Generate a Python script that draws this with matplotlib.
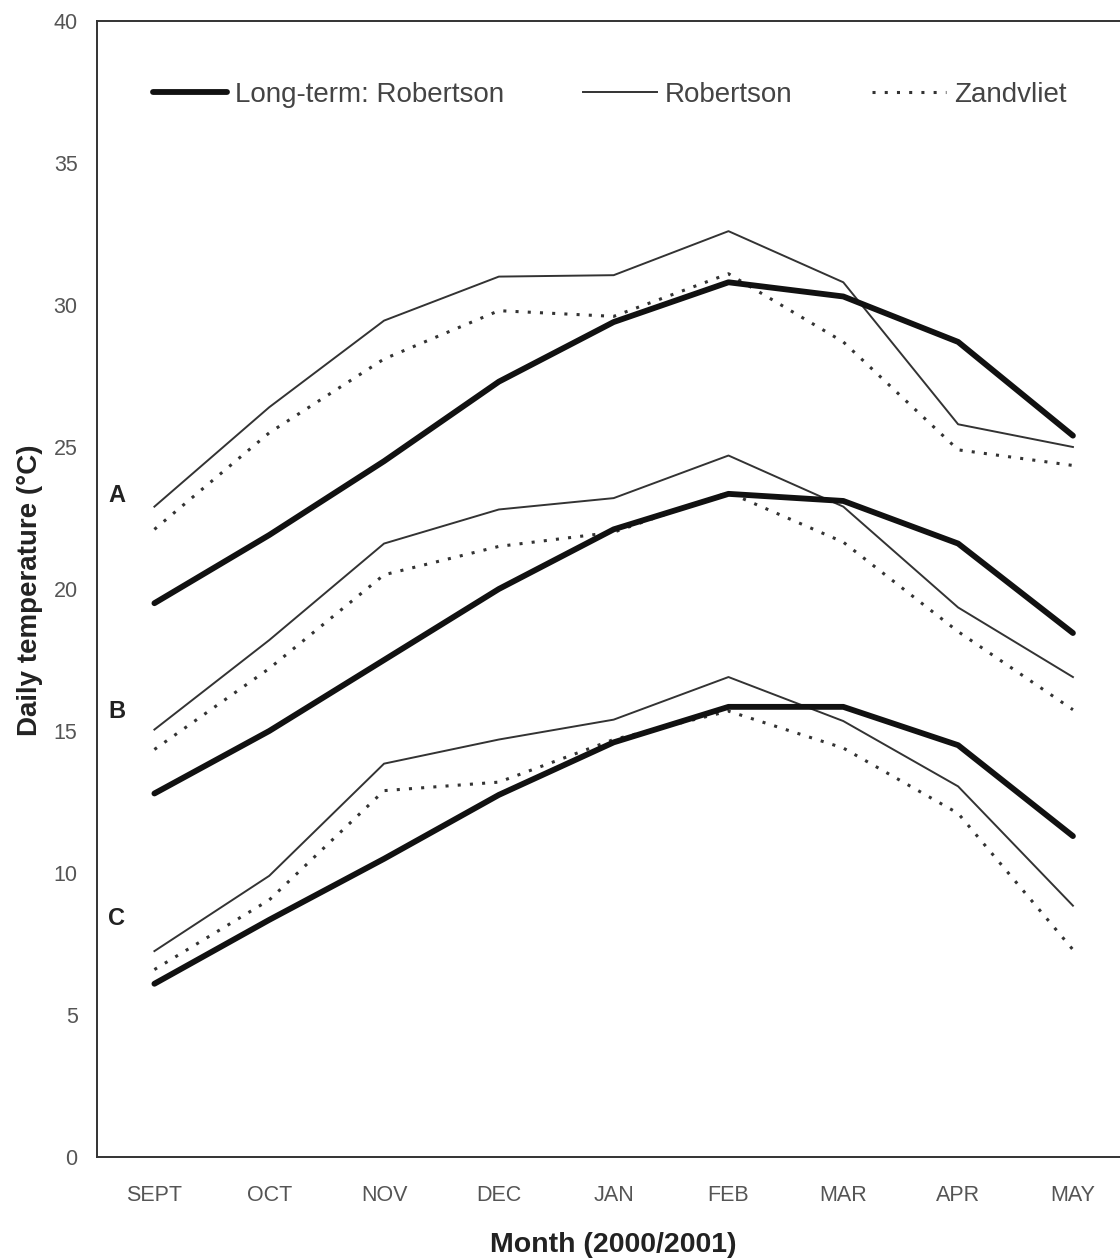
import matplotlib
matplotlib.use("Agg")
import matplotlib.pyplot as plt

plt.rcParams['font.family'] = ['Liberation Sans', 'DejaVu Sans']

# Mean daily temperature per month, three curves per group (A, B, C)
months = ["SEPT", "OCT", "NOV", "DEC", "JAN", "FEB", "MAR", "APR", "MAY"]

long_term_a = [19.5, 21.9, 24.5, 27.3, 29.4, 30.8, 30.3, 28.7, 25.4]
robertson_a = [22.9, 26.4, 29.45, 31.0, 31.05, 32.6, 30.8, 25.8, 25.0]
zandvliet_a = [22.1, 25.5, 28.1, 29.8, 29.6, 31.1, 28.7, 24.9, 24.35]

long_term_b = [12.8, 15.0, 17.5, 20.0, 22.1, 23.35, 23.1, 21.6, 18.45]
robertson_b = [15.05, 18.2, 21.6, 22.8, 23.2, 24.7, 22.9, 19.35, 16.9]
zandvliet_b = [14.35, 17.2, 20.5, 21.5, 22.0, 23.4, 21.65, 18.5, 15.75]

long_term_c = [6.1, 8.35, 10.5, 12.75, 14.6, 15.85, 15.85, 14.5, 11.3]
robertson_c = [7.25, 9.9, 13.85, 14.7, 15.4, 16.9, 15.35, 13.05, 8.85]
zandvliet_c = [6.6, 9.05, 12.9, 13.2, 14.7, 15.7, 14.4, 12.1, 7.3]

group_labels = ["A", "B", "C"]
group_label_y = [23.3, 15.7, 8.4]

fig = plt.figure(figsize=(11.2, 12.6), dpi=100)
ax = fig.add_axes([97 / 1120, 103 / 1260, 1023 / 1120, 1136 / 1260])

x = list(range(len(months)))
thick = dict(color="#111111", lw=4.2, solid_capstyle="round", solid_joinstyle="round")
thin = dict(color="#333333", lw=1.4)
dotted = dict(color="#333333", lw=2.2, linestyle=(0, (1, 3.0)))

groups = [
    (long_term_a, robertson_a, zandvliet_a),
    (long_term_b, robertson_b, zandvliet_b),
    (long_term_c, robertson_c, zandvliet_c),
]
for i, (lt, rob, zand) in enumerate(groups):
    ax.plot(x, zand, label="Zandvliet" if i == 0 else None, **dotted)
    ax.plot(x, rob, label="Robertson" if i == 0 else None, **thin)
    ax.plot(x, lt, label="Long-term: Robertson" if i == 0 else None, **thick)

for lab, yy in zip(group_labels, group_label_y):
    ax.text(-0.33, yy, lab, fontsize=17, fontweight="bold", color="#222222",
            ha="center", va="center")

ax.set_xlim(-0.5, 8.41)
ax.set_ylim(0, 40)
ax.set_xticks(x)
ax.set_xticklabels(months)
ax.set_yticks(range(0, 41, 5))
ax.tick_params(axis="both", length=0, labelsize=15.5, labelcolor="#555555")
ax.tick_params(axis="x", pad=20)
ax.tick_params(axis="y", pad=14)

for side in ["left", "top", "bottom"]:
    ax.spines[side].set_color("#333333")
    ax.spines[side].set_linewidth(1.4)
ax.spines["right"].set_visible(False)

# legend order: long-term, Robertson, Zandvliet
handles, labels = ax.get_legend_handles_labels()
order = [labels.index("Long-term: Robertson"), labels.index("Robertson"), labels.index("Zandvliet")]
ax.legend([handles[k] for k in order], [labels[k] for k in order],
          loc="center left", bbox_to_anchor=(56 / 1023, 0.935), ncol=3,
          frameon=False, fontsize=20, handlelength=2.65, handletextpad=0.3,
          columnspacing=2.85, borderpad=0, borderaxespad=0,
          labelcolor="#444444")

fig.text(30 / 1120, 1 - 590 / 1260, "Daily temperature (°C)", rotation=90,
         fontsize=20, fontweight="bold", color="#222222", ha="center", va="center")
fig.text(613 / 1120, 1 - 1245 / 1260, "Month (2000/2001)",
         fontsize=20.5, fontweight="bold", color="#222222", ha="center", va="center")

fig.savefig("out.png", dpi=100)
